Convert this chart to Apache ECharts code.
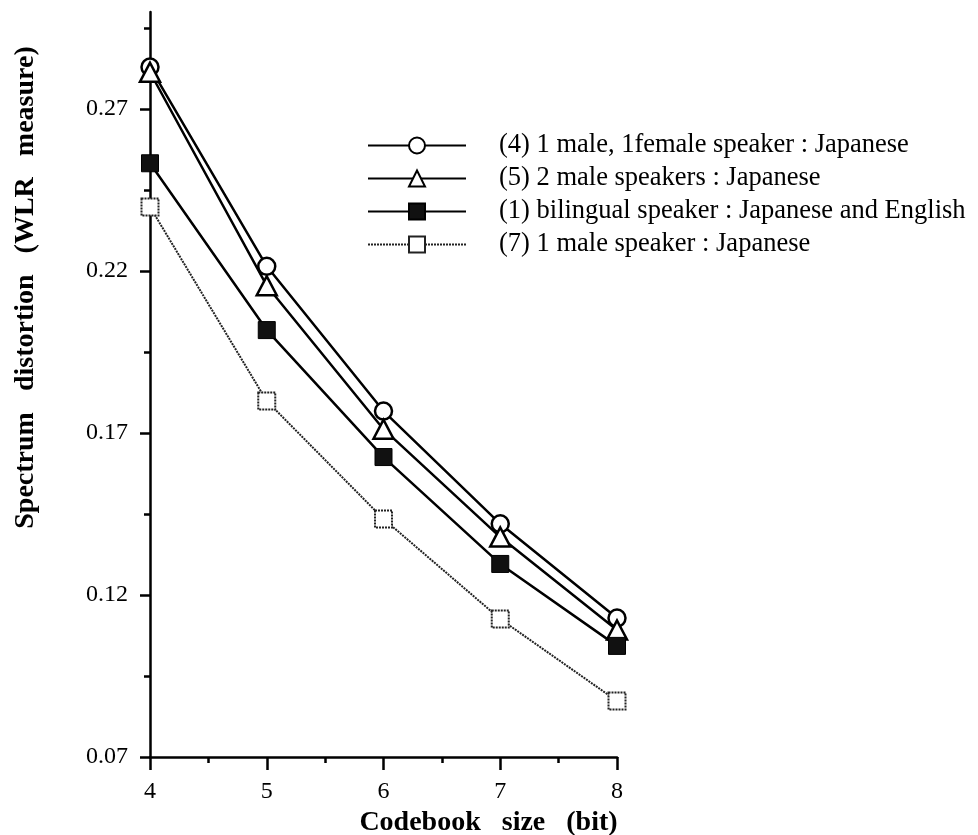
<!DOCTYPE html>
<html>
<head>
<meta charset="utf-8">
<title>Spectrum distortion vs codebook size</title>
<script src="https://cdn.jsdelivr.net/npm/echarts@6/dist/echarts.min.js"></script>
<style>
  html, body { margin: 0; padding: 0; background: #fff; }
  #chart { width: 978px; height: 835px; }
</style>
</head>
<body>
<div id="chart"></div>
<script>
// Codebook size in bits (x axis)
const codebookBits = [4, 5, 6, 7, 8];

// Spectrum distortion (WLR measure) per training condition
const maleFemaleJp = [0.2830, 0.2215, 0.1768, 0.1420, 0.1129];   // (4)
const twoMaleJp    = [0.2814, 0.2155, 0.1712, 0.1379, 0.1092];   // (5)
const bilingualJpEn = [0.2533, 0.2018, 0.1626, 0.1296, 0.1043];  // (1)
const oneMaleJp    = [0.2398, 0.1799, 0.1435, 0.1126, 0.0873];   // (7)

const seriesNames = [
  '(4) 1 male, 1female speaker : Japanese',
  '(5) 2 male speakers : Japanese',
  '(1) bilingual speaker : Japanese and English',
  '(7) 1 male speaker : Japanese'
];

// Axis ticks
const yMajorTicks = [0.07, 0.12, 0.17, 0.22, 0.27];
const yMinorTicks = [0.095, 0.145, 0.195, 0.245, 0.295];

const FONT = "'Liberation Serif', 'Times New Roman', serif";

function pairs(values) {
  return codebookBits.map((x, i) => [x, values[i]]);
}

const chart = echarts.init(document.getElementById('chart'), null, { renderer: 'canvas' });

const yBase = {
  type: 'value',
  min: 0.07,
  max: 0.30,
  position: 'left',
  splitLine: { show: false }
};

chart.setOption({
  animation: false,
  backgroundColor: '#ffffff',
  grid: {
    left: 150, right: 361, top: 12, bottom: 78,
    containLabel: false,
    outerBoundsMode: 'none'
  },
  legend: {
    left: 362,
    top: 127,
    orient: 'vertical',
    itemWidth: 98,
    itemHeight: 20,
    itemGap: 6,
    textStyle: {
      fontFamily: FONT,
      fontSize: 26.5,
      color: '#000',
      lineHeight: 25,
      padding: [0, 0, 0, 28]
    },
    data: seriesNames
  },
  xAxis: {
    type: 'value',
    min: 4,
    max: 8,
    interval: 1,
    name: 'Codebook   size   (bit)',
    nameLocation: 'middle',
    nameGap: 46,
    nameTextStyle: {
      fontFamily: FONT,
      fontSize: 28,
      fontWeight: 'bold',
      color: '#000',
      padding: [0, 0, 0, 210]
    },
    axisLine: { lineStyle: { color: '#000', width: 2.5 } },
    axisTick: { length: 13, lineStyle: { color: '#000', width: 2.5 } },
    minorTick: { show: true, splitNumber: 2, length: 6, lineStyle: { color: '#000', width: 2.5 } },
    axisLabel: { margin: 23, fontFamily: FONT, fontSize: 24, color: '#000' },
    splitLine: { show: false },
    minorSplitLine: { show: false }
  },
  yAxis: [
    Object.assign({}, yBase, {
      name: 'Spectrum   distortion   (WLR   measure)',
      nameLocation: 'middle',
      nameGap: 110,
      nameTextStyle: {
        fontFamily: FONT,
        fontSize: 28,
        fontWeight: 'bold',
        color: '#000',
        padding: [0, 0, 0, 194]
      },
      axisLine: { show: true, lineStyle: { color: '#000', width: 2.5 } },
      axisTick: { length: 10, customValues: yMajorTicks, lineStyle: { color: '#000', width: 2.5 } },
      axisLabel: {
        margin: 22,
        padding: [10, 0, 0, 0],
        customValues: yMajorTicks,
        fontFamily: FONT,
        fontSize: 24,
        color: '#000',
        formatter: v => v.toFixed(2)
      }
    }),
    Object.assign({}, yBase, {
      axisLine: { show: false },
      axisTick: { show: true, length: 6, customValues: yMinorTicks, lineStyle: { color: '#000', width: 2.5 } },
      axisLabel: { show: false }
    })
  ],
  series: [
    {
      name: seriesNames[0],
      type: 'line',
      data: pairs(maleFemaleJp),
      symbol: 'circle',
      symbolSize: 17,
      lineStyle: { color: '#000', width: 2.5 },
      itemStyle: { color: '#fff', borderColor: '#000', borderWidth: 2.5 },
      z: 2
    },
    {
      name: seriesNames[1],
      type: 'line',
      data: pairs(twoMaleJp),
      symbol: 'triangle',
      symbolSize: [20, 19],
      lineStyle: { color: '#000', width: 2.5 },
      itemStyle: { color: '#fff', borderColor: '#000', borderWidth: 2.5 },
      z: 3
    },
    {
      name: seriesNames[2],
      type: 'line',
      data: pairs(bilingualJpEn),
      symbol: 'rect',
      symbolSize: 17,
      lineStyle: { color: '#000', width: 2.5 },
      itemStyle: { color: '#111', borderColor: '#000', borderWidth: 1 },
      z: 4
    },
    {
      name: seriesNames[3],
      type: 'line',
      data: pairs(oneMaleJp),
      symbol: 'rect',
      symbolSize: 17,
      lineStyle: { color: '#222', width: 2, type: [2, 1] },
      itemStyle: { color: '#fff', borderColor: '#222', borderWidth: 2, borderType: [2, 1] },
      z: 5
    }
  ]
});
</script>
</body>
</html>
